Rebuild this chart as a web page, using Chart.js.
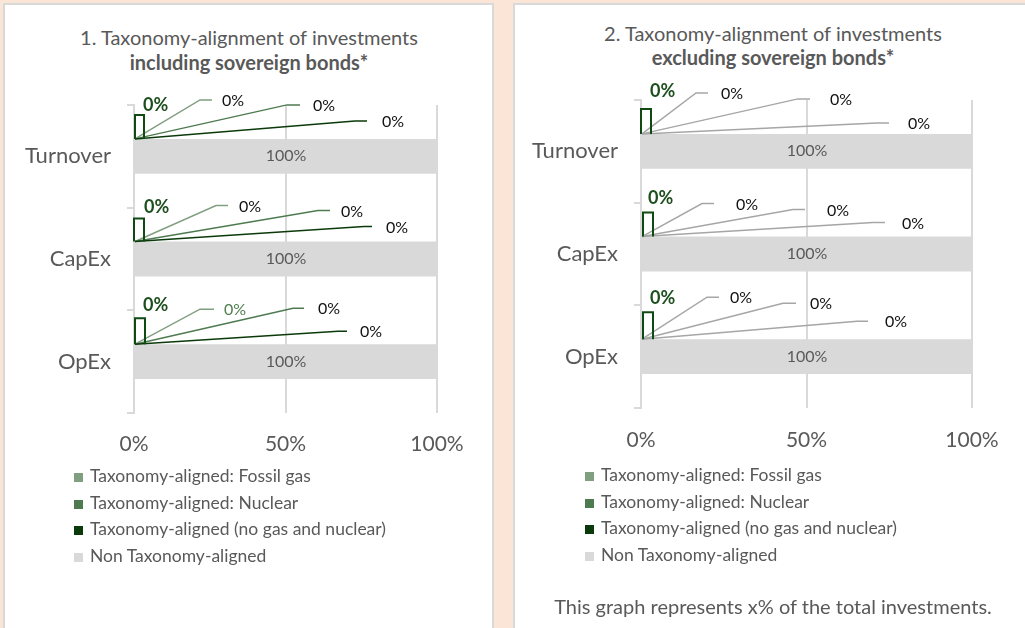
<!DOCTYPE html>
<html>
<head>
<meta charset="utf-8">
<script src="https://cdn.jsdelivr.net/npm/chart.js@4.4.1/dist/chart.umd.min.js"></script>
<style>
  body { margin: 0; width: 1025px; height: 628px; overflow: hidden; position: relative; background: #FBE5D6; font-family: Lato, sans-serif; }
  .panel { position: absolute; top: 3px; height: 660px; background: #fff; border: 2px solid #D9D9D9; box-sizing: border-box; }
  canvas { position: absolute; }
  .title { position: absolute; text-align: center; color: #595959; font-size: 20px; white-space: nowrap; }
  .legend { position: absolute; color: #595959; font-size: 17.5px; }
  .legend div { height: 26.5px; line-height: 26.5px; white-space: nowrap; }
  .legend span { display: inline-block; width: 9px; height: 9px; margin-right: 7px; vertical-align: 0px; }
  .note { position: absolute; color: #595959; font-size: 20px; text-align: center; white-space: nowrap; }
</style>
</head>
<body>
<div class="panel" style="left:3px;width:491px"></div>
<div class="panel" style="left:513px;width:525px"></div>

<div class="title" style="left:6px;width:486px;top:25px;line-height:25px">1. Taxonomy-alignment of investments<br><b>including sovereign bonds*</b></div>
<div class="title" style="left:521px;width:504px;top:21px;line-height:24px">2. Taxonomy-alignment of investments<br><b>excluding sovereign bonds*</b></div>

<canvas id="chart1" width="486" height="622" style="left:6px;top:6px"></canvas>
<canvas id="chart2" width="509" height="622" style="left:516px;top:6px"></canvas>

<div class="legend" id="legend1" style="left:74px;top:463px"></div>
<div class="legend" id="legend2" style="left:585px;top:462px"></div>
<div class="note" style="left:521px;width:504px;top:594px">This graph represents x% of the total investments.</div>

<script>
const categories = ['Turnover', 'CapEx', 'OpEx'];
const seriesNames = [
  'Taxonomy-aligned: Fossil gas',
  'Taxonomy-aligned: Nuclear',
  'Taxonomy-aligned (no gas and nuclear)',
  'Non Taxonomy-aligned'
];
const xTicks = [0, 50, 100];

// 1. including sovereign bonds
const inclFossilGas = [0, 0, 0];
const inclNuclear = [0, 0, 0];
const inclOther = [0, 0, 0];
const inclNonAligned = [100, 100, 100];

// 2. excluding sovereign bonds
const exclFossilGas = [0, 0, 0];
const exclNuclear = [0, 0, 0];
const exclOther = [0, 0, 0];
const exclNonAligned = [100, 100, 100];

const seriesColors = ['#809F80', '#4E7A50', '#0A3A0A', '#D9D9D9'];

// callout placement, offsets from the top-left corner of each bar
// [elbowDx, elbowDy, lineEndDx, labelDx] per green series; mark = [dx, width, top, boldDx, boldDy]
const calloutsIncl = [
  { lines: [[65, -39, 77, 87], [152, -34, 165, 178], [220, -18, 232, 247]], mark: [0, 9, -24, 8, -34] },
  { lines: [[81, -36, 93, 104], [183, -31, 195, 206], [229, -15, 237, 251]], mark: [-1, 10, -23, 9, -34] },
  { lines: [[65, -35, 79, 89], [158, -36, 169, 183], [203, -13, 212, 225]], mark: [0, 10, -26, 8, -39] }
];
const calloutsExcl = [
  { lines: [[54, -41, 66, 79], [156, -35, 168, 188], [235, -11, 247, 266]], mark: [-1, 10, -25, 8, -43] },
  { lines: [[60, -33, 72, 94], [151, -27, 163, 185], [231, -14, 243, 260]], mark: [1, 10, -24, 6, -38] },
  { lines: [[65, -42, 77, 88], [141, -36, 154, 168], [215, -18, 226, 243]], mark: [1, 10, -27, 8, -41] }
];

const calloutPlugin = {
  id: 'callouts',
  afterDatasetsDraw(chart, args, opts) {
    const ctx = chart.ctx;
    const sets = chart.data.datasets;
    const grey = chart.getDatasetMeta(3);
    ctx.save();
    ctx.textBaseline = 'middle';

    // value inside the non-aligned bar
    ctx.font = '16px Lato';
    ctx.fillStyle = '#595959';
    ctx.textAlign = 'center';
    grey.data.forEach((bar, i) => {
      ctx.fillText(sets[3].data[i] + '%', (bar.base + bar.x) / 2, bar.y);
    });

    ctx.textAlign = 'left';
    opts.layout.forEach((c, i) => {
      for (let s = 0; s < 3; s++) {
        const el = chart.getDatasetMeta(s).data[i];
        const ax = el.x + 1;
        const ay = el.y - el.height / 2;
        const [ex, ey, endx, lx] = c.lines[s];
        ctx.strokeStyle = opts.lineColors[s];
        ctx.lineWidth = 1.5;
        ctx.beginPath();
        ctx.moveTo(ax, ay);
        ctx.lineTo(ax + ex, ay + ey);
        ctx.lineTo(ax + endx, ay + ey);
        ctx.stroke();
        ctx.font = '16px Lato';
        ctx.fillStyle = (opts.labelColors[i] && opts.labelColors[i][s]) || '#111';
        ctx.fillText(sets[s].data[i] + '%', ax + lx, ay + ey + 1);
      }
      // outlined marker + bold total for the aligned share
      const el = chart.getDatasetMeta(2).data[i];
      const ax = el.x + 1;
      const ay = el.y - el.height / 2;
      const [mx, mw, mt, bx, by] = c.mark;
      ctx.strokeStyle = '#0F4A12';
      ctx.lineWidth = 2;
      ctx.beginPath();
      ctx.moveTo(ax + mx, ay);
      ctx.lineTo(ax + mx, ay + mt);
      ctx.lineTo(ax + mx + mw, ay + mt);
      ctx.lineTo(ax + mx + mw, ay);
      ctx.stroke();
      ctx.font = 'bold 18px Lato';
      ctx.fillStyle = '#1E4F1E';
      ctx.fillText(sets[2].data[i] + '%', ax + bx, ay + by);
    });
    ctx.restore();
  }
};

function makeChart(id, values, pad, layout, lineColors, labelColors) {
  return new Chart(document.getElementById(id), {
    type: 'bar',
    data: {
      labels: categories,
      datasets: seriesNames.map((name, k) => ({
        label: name,
        data: values[k],
        backgroundColor: seriesColors[k],
        borderWidth: 0,
        barPercentage: 0.34,
        categoryPercentage: 1
      }))
    },
    options: {
      indexAxis: 'y',
      responsive: false,
      animation: false,
      layout: { padding: { left: 0, right: pad.right, top: pad.top, bottom: pad.bottom } },
      plugins: {
        legend: { display: false },
        tooltip: { enabled: false },
        callouts: { layout, lineColors, labelColors }
      },
      scales: {
        x: {
          stacked: true,
          min: 0,
          max: 100,
          afterBuildTicks: (s) => { s.ticks = xTicks.map((v) => ({ value: v })); },
          ticks: { color: '#595959', font: { family: 'Lato', size: 21 }, padding: pad.tick, callback: (v) => v + '%' },
          grid: { color: '#D9D9D9', lineWidth: 2, drawTicks: false },
          border: { display: false },
          afterFit: (s) => { s.height = 40; }
        },
        y: {
          stacked: true,
          ticks: { color: '#595959', font: { family: 'Lato', size: 22 }, padding: 16 },
          grid: { offset: true, drawOnChartArea: false, tickLength: 7, color: '#D9D9D9', lineWidth: 2 },
          border: { color: '#D9D9D9', width: 2 },
          afterFit: (s) => { s.width = pad.axis; }
        }
      }
    },
    plugins: [calloutPlugin]
  });
}

function buildLegend(id) {
  document.getElementById(id).innerHTML = seriesNames
    .map((n, k) => `<div><span style="background:${seriesColors[k]}"></span>${n}</div>`)
    .join('');
}

makeChart('chart1', [inclFossilGas, inclNuclear, inclOther, inclNonAligned],
  { axis: 128, right: 55, top: 99, bottom: 175, tick: 19 }, calloutsIncl,
  ['#809F80', '#4E7A50', '#0A3A0A'], [null, null, ['#4E7F4E']]);
makeChart('chart2', [exclFossilGas, exclNuclear, exclOther, exclNonAligned],
  { axis: 125, right: 53, top: 94, bottom: 180, tick: 20 }, calloutsExcl,
  ['#A6A6A6', '#A6A6A6', '#A6A6A6'], []);
buildLegend('legend1');
buildLegend('legend2');
</script>
</body>
</html>
